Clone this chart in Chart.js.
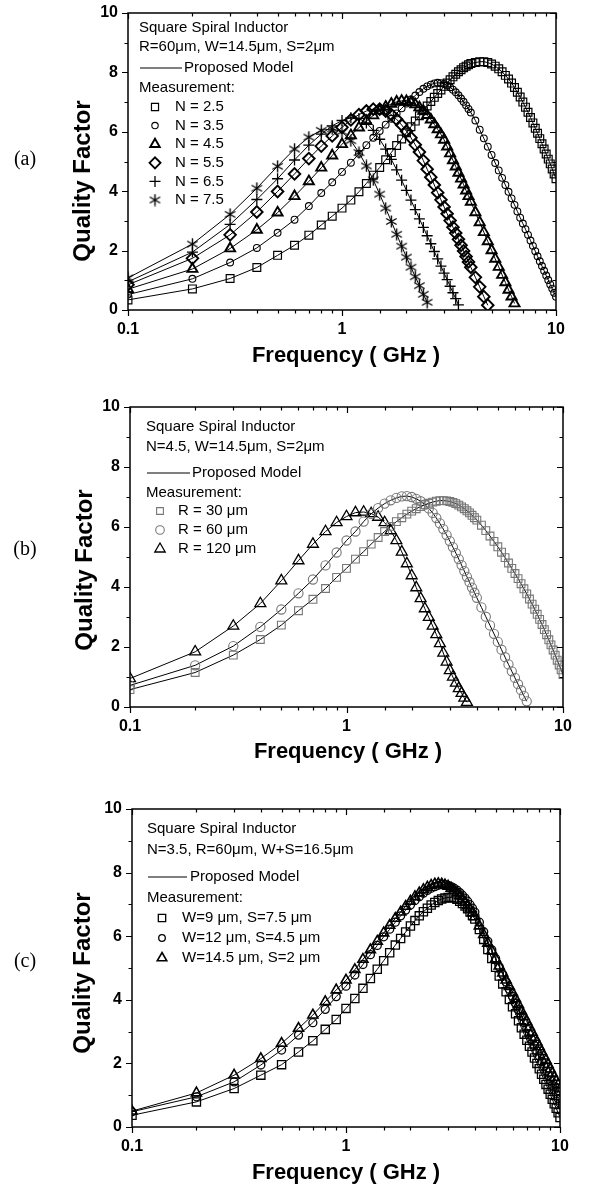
<!DOCTYPE html>
<html>
<head>
<meta charset="utf-8">
<script src="https://cdn.jsdelivr.net/npm/chart.js@4.4.1/dist/chart.umd.min.js"></script>
<style>
  html, body { margin: 0; padding: 0; background: #fff; }
  #wrap { position: relative; width: 609px; height: 1189px; }
  .panel { position: absolute; left: 0; width: 609px; }
</style>
</head>
<body>
<div id="wrap">
  <div class="panel" style="top:0px;height:390px"><canvas id="chartA" width="609" height="390"></canvas></div>
  <div class="panel" style="top:390px;height:390px"><canvas id="chartB" width="609" height="390"></canvas></div>
  <div class="panel" style="top:780px;height:409px"><canvas id="chartC" width="609" height="409"></canvas></div>
</div>
<script>
// measured frequency points (GHz), shared by every series
const freqGHz = [0.1,0.2,0.3,0.4,0.5,0.6,0.7,0.8,0.9,1.0,1.1,1.2,1.3,1.4,1.5,1.6,1.7,1.8,1.9,2.0,
  2.1,2.2,2.3,2.4,2.5,2.6,2.7,2.8,2.9,3.0,3.1,3.2,3.3,3.4,3.5,3.6,3.7,3.8,3.9,4.0,
  4.2,4.4,4.6,4.8,5.0,5.2,5.4,5.6,5.8,6.0,6.2,6.4,6.6,6.8,7.0,7.2,7.4,7.6,7.8,8.0,
  8.2,8.4,8.6,8.8,9.0,9.2,9.4,9.6,9.8,10.0];

// (a) R=60um, W=14.5um, S=2um, number of turns N
const qN25 = [0.34,0.71,1.06,1.43,1.84,2.18,2.52,2.86,3.16,3.43, 3.70,3.98,4.26,4.54,4.80,5.06,5.30,5.54,5.76,5.97,
  6.17,6.36,6.54,6.71,6.87,7.02,7.16,7.29,7.41,7.53, 7.64,7.75,7.85,7.94,8.02,8.09,8.16,8.21,8.26,8.30,
  8.33,8.36,8.36,8.33,8.28,8.21,8.12,8.02,7.90,7.78, 7.64,7.49,7.33,7.17,7.00,6.83,6.66,6.48,6.30,6.12,
  5.95,5.77,5.60,5.42,5.25,5.08,4.92,4.75,4.58,4.42];
const qN35 = [0.52,1.05,1.60,2.09,2.60,3.04,3.50,3.94,4.30,4.65, 4.96,5.26,5.55,5.80,6.03,6.24,6.44,6.62,6.79,6.95,
  7.09,7.22,7.34,7.45,7.53,7.59,7.63,7.65,7.64,7.61, 7.56,7.50,7.42,7.33,7.23,7.12,7.01,6.89,6.77,6.65,
  6.38,6.07,5.78,5.50,5.22,4.95,4.70,4.45,4.21,3.98, 3.76,3.54,3.32,3.11,2.91,2.72,2.53,2.34,2.16,1.98,
  1.81,1.64,1.48,1.32,1.16,1.01,0.86,0.72,0.58,0.45];
const qN45 = [0.70,1.38,2.07,2.70,3.28,3.83,4.33,4.79,5.20,5.58, 5.88,6.14,6.36,6.55,6.71,6.84,6.94,7.01,7.04,7.03,
  6.99,6.92,6.82,6.70,6.56,6.41,6.25,6.08,5.91,5.73, 5.50,5.27,5.04,4.83,4.62,4.42,4.22,4.02,3.83,3.64,
  3.29,2.95,2.62,2.31,2.01,1.72,1.45,1.18,0.93,0.68, 0.45,0.22];
const qN55 = [0.85,1.74,2.53,3.30,3.99,4.58,5.10,5.52,5.86,6.15, 6.40,6.58,6.70,6.76,6.76,6.70,6.58,6.42,6.23,6.02,
  5.80,5.56,5.32,5.03,4.74,4.47,4.21,3.95,3.71,3.47, 3.24,3.01,2.79,2.59,2.38,2.18,1.99,1.80,1.62,1.44,
  1.10,0.78,0.45,0.16];
const qN65 = [0.95,1.95,2.88,3.72,4.42,5.05,5.55,5.92,6.20,6.38, 6.47,6.45,6.30,6.05,5.75,5.42,5.07,4.72,4.37,4.03,
  3.70,3.38,3.07,2.78,2.50,2.23,1.97,1.72,1.48,1.24, 1.02,0.80,0.58,0.38,0.17];
const qN75 = [1.08,2.22,3.22,4.10,4.84,5.42,5.82,6.05,6.10,6.00, 5.70,5.30,4.85,4.38,3.90,3.43,2.98,2.55,2.15,1.78,
  1.44,1.12,0.82,0.53,0.26];

// (b) N=4.5, W=14.5um, S=2um, outer radius R
const qR30 = [0.58,1.15,1.73,2.25,2.73,3.21,3.59,3.95,4.32,4.62, 4.93,5.18,5.43,5.65,5.85,6.02,6.18,6.31,6.43,6.53,
  6.61,6.68,6.74,6.79,6.83,6.86,6.88,6.88,6.87,6.85, 6.82,6.78,6.73,6.67,6.61,6.54,6.47,6.39,6.31,6.23,
  6.06,5.88,5.70,5.52,5.34,5.16,4.98,4.80,4.62,4.45, 4.28,4.11,3.94,3.77,3.60,3.43,3.26,3.09,2.92,2.75,
  2.58,2.41,2.24,2.07,1.90,1.73,1.56,1.40,1.24,1.08];
const qR60 = [0.72,1.39,2.03,2.67,3.25,3.79,4.25,4.72,5.15,5.55, 5.85,6.18,6.44,6.63,6.78,6.89,6.97,7.02,7.03,7.00,
  6.94,6.86,6.75,6.62,6.47,6.30,6.12,5.93,5.73,5.53, 5.33,5.13,4.93,4.73,4.53,4.34,4.16,3.98,3.81,3.64,
  3.32,3.01,2.72,2.44,2.17,1.91,1.66,1.42,1.19,0.97, 0.76,0.56,0.37,0.19];
const qR120 = [0.95,1.84,2.70,3.45,4.21,4.88,5.43,5.85,6.15,6.35, 6.48,6.50,6.45,6.33,6.15,5.88,5.55,5.17,4.78,4.38,
  3.98,3.62,3.28,2.99,2.70,2.42,2.12,1.80,1.50,1.22, 1.00,0.80,0.62,0.46,0.30,0.16];

// (c) N=3.5, R=60um, W+S=16.5um
const qW9 = [0.37,0.79,1.21,1.63,1.96,2.36,2.71,3.07,3.38,3.73, 4.04,4.36,4.67,4.96,5.23,5.48,5.72,5.93,6.13,6.32,
  6.49,6.64,6.77,6.88,6.98,7.06,7.12,7.17,7.20,7.22, 7.22,7.20,7.16,7.10,7.03,6.95,6.86,6.76,6.65,6.54,
  6.21,5.90,5.58,5.30,5.02,4.75,4.50,4.25,4.01,3.78, 3.56,3.34,3.12,2.92,2.73,2.54,2.36,2.17,2.00,1.83,
  1.66,1.50,1.34,1.19,1.03,0.87,0.73,0.59,0.45,0.30];
const qW12 = [0.48,0.95,1.42,1.95,2.42,2.89,3.28,3.70,4.10,4.43, 4.78,5.11,5.42,5.71,5.98,6.22,6.44,6.64,6.82,6.98,
  7.12,7.24,7.35,7.44,7.51,7.56,7.60,7.62,7.62,7.60, 7.56,7.51,7.45,7.37,7.29,7.20,7.10,6.99,6.88,6.76,
  6.44,6.14,5.84,5.57,5.30,5.04,4.80,4.56,4.33,4.11, 3.90,3.69,3.48,3.28,3.10,2.92,2.74,2.56,2.39,2.23,
  2.06,1.91,1.76,1.61,1.46,1.31,1.17,1.04,0.90,0.75];
const qW145 = [0.50,1.07,1.63,2.15,2.63,3.10,3.52,3.94,4.31,4.62, 4.95,5.27,5.57,5.84,6.10,6.34,6.56,6.76,6.94,7.10,
  7.24,7.36,7.46,7.54,7.60,7.64,7.65,7.64,7.61,7.57, 7.51,7.44,7.36,7.27,7.17,7.07,6.96,6.85,6.73,6.61,
  6.32,6.05,5.78,5.54,5.29,5.06,4.84,4.62,4.42,4.22, 4.03,3.84,3.65,3.47,3.31,3.14,2.98,2.82,2.67,2.52,
  2.37,2.23,2.10,1.96,1.82,1.69,1.56,1.44,1.32,1.20];

const FONT = "'Liberation Sans', Arial, sans-serif";

// six-armed asterisk used for N = 7.5
function asterisk(size, lw) {
  const c = document.createElement('canvas');
  c.width = size; c.height = size;
  const g = c.getContext('2d');
  const m = size / 2, r = size / 2 - 0.5;
  g.strokeStyle = '#000';
  g.lineWidth = lw;
  [90, 30, 150].forEach(a => {
    const dx = r * Math.cos(a * Math.PI / 180), dy = r * Math.sin(a * Math.PI / 180);
    g.beginPath(); g.moveTo(m - dx, m - dy); g.lineTo(m + dx, m + dy); g.stroke();
  });
  return c;
}
const starBig = asterisk(13, 1.4);

function toPoints(q) {
  return q.map((v, i) => ({x: freqGHz[i], y: v}));
}

function isDecade(v) {
  const l = Math.log10(v);
  return Math.abs(l - Math.round(l)) < 1e-6;
}

// frame, mirrored ticks, titles and the in-plot notes
const panelDeco = {
  id: 'panelDeco',
  afterDraw(chart, args, o) {
    const ctx = chart.ctx, a = chart.chartArea;
    const xs = chart.scales.x, ys = chart.scales.y;
    ctx.save();
    ctx.strokeStyle = '#000';
    ctx.lineWidth = 1.5;
    ctx.strokeRect(a.left, a.top, a.right - a.left, a.bottom - a.top);
    ctx.lineWidth = 1.2;
    ys.ticks.forEach(t => {
      const y = Math.round(ys.getPixelForValue(t.value)) + 0.5;
      const len = t.value % 2 === 0 ? 6 : 3.5;
      ctx.beginPath();
      ctx.moveTo(a.left - len, y); ctx.lineTo(a.left, y);
      ctx.moveTo(a.right, y); ctx.lineTo(a.right - len, y);
      ctx.stroke();
    });
    xs.ticks.forEach(t => {
      const x = Math.round(xs.getPixelForValue(t.value)) + 0.5;
      const len = isDecade(t.value) ? 6 : 3.5;
      ctx.beginPath();
      ctx.moveTo(x, a.bottom); ctx.lineTo(x, a.bottom + len);
      ctx.moveTo(x, a.top); ctx.lineTo(x, a.top + len);
      ctx.stroke();
    });

    ctx.fillStyle = '#000';
    ctx.textBaseline = 'middle';
    // axis titles
    ctx.font = 'bold 22px ' + FONT;
    ctx.textAlign = 'center';
    ctx.fillText('Frequency ( GHz )', o.xTitle[0], o.xTitle[1]);
    ctx.save();
    ctx.translate(o.yTitle[0], o.yTitle[1]);
    ctx.rotate(-Math.PI / 2);
    ctx.font = 'bold 24px ' + FONT;
    ctx.fillText('Quality Factor', 0, 0);
    ctx.restore();
    // panel tag
    ctx.font = "20px 'Liberation Serif', 'Times New Roman', serif";
    ctx.fillText(o.tag, o.tagPos[0], o.tagPos[1]);

    // notes
    ctx.textAlign = 'left';
    ctx.font = '15px ' + FONT;
    o.notes.forEach(n => ctx.fillText(n[0], n[1], n[2]));
    ctx.lineWidth = 1;
    ctx.beginPath();
    ctx.moveTo(o.model[0], o.model[2]); ctx.lineTo(o.model[1], o.model[2]);
    ctx.stroke();
    ctx.fillText('Proposed Model', o.model[3], o.model[2]);

    chart.data.datasets.forEach((ds, i) => {
      const y = o.items[0] + i * o.items[1];
      ctx.save();
      ctx.strokeStyle = ds.pointBorderColor;
      ctx.fillStyle = 'rgba(0,0,0,0)';
      ctx.lineWidth = ds.pointBorderWidth;
      Chart.helpers.drawPoint(ctx, {pointStyle: ds.pointStyle, radius: ds.legendRadius, borderWidth: ds.pointBorderWidth, rotation: 0}, o.markX, y);
      ctx.restore();
      ctx.fillText(ds.label, o.textX, y);
    });
    ctx.restore();
  }
};

function makePanel(id, height, area, series, deco) {
  const yw = 40, xh = 30;
  const datasets = series.map(s => ({
    label: s.label,
    data: toPoints(s.q),
    showLine: true,
    borderColor: '#000',
    borderWidth: 1,
    tension: 0,
    pointStyle: s.style,
    pointRadius: s.r,
    legendRadius: s.lr,
    pointBorderWidth: s.bw,
    pointBorderColor: s.color || '#000',
    pointBackgroundColor: 'rgba(0,0,0,0)'
  }));
  return new Chart(document.getElementById(id), {
    type: 'scatter',
    data: {datasets},
    options: {
      responsive: false,
      animation: false,
      events: [],
      layout: {padding: {left: area.left - yw, top: area.top, right: 609 - area.right, bottom: height - area.bottom - xh}},
      plugins: {legend: {display: false}, tooltip: {enabled: false}, panelDeco: deco},
      scales: {
        x: {
          type: 'logarithmic', min: 0.1, max: 10,
          border: {display: false},
          grid: {display: false, drawTicks: false},
          ticks: {
            autoSkip: false, maxRotation: 0, padding: 10, color: '#000',
            font: {family: FONT, size: 16, weight: 'bold'},
            callback: v => isDecade(v) ? String(v) : ''
          },
          afterFit: s => { s.height = xh; s.paddingLeft = 0; s.paddingRight = 0; }
        },
        y: {
          min: 0, max: 10,
          border: {display: false},
          grid: {display: false, drawTicks: false},
          ticks: {
            stepSize: 1, padding: 10, color: '#000',
            font: {family: FONT, size: 16, weight: 'bold'},
            callback: v => v % 2 === 0 ? String(v) : ''
          },
          afterFit: s => { s.width = yw; s.paddingTop = 0; s.paddingBottom = 0; }
        }
      }
    },
    plugins: [panelDeco]
  });
}

makePanel('chartA', 390, {left: 128, top: 13, right: 556, bottom: 310}, [
  {label: 'N = 2.5', q: qN25, style: 'rect', r: 5.5, lr: 5, bw: 1.2},
  {label: 'N = 3.5', q: qN35, style: 'circle', r: 3.4, lr: 3.2, bw: 1.1},
  {label: 'N = 4.5', q: qN45, style: 'triangle', r: 5.8, lr: 5.5, bw: 1.9},
  {label: 'N = 5.5', q: qN55, style: 'rectRot', r: 5.8, lr: 5.5, bw: 1.9},
  {label: 'N = 6.5', q: qN65, style: 'cross', r: 5.5, lr: 5.5, bw: 1.3},
  {label: 'N = 7.5', q: qN75, style: starBig, r: 6.5, lr: 6.5, bw: 1.3}
], {
  tag: '(a)', tagPos: [25, 160], xTitle: [346, 356], yTitle: [83, 181],
  notes: [['Square Spiral Inductor', 139, 28], ['R=60\u03bcm, W=14.5\u03bcm, S=2\u03bcm', 139, 47], ['Measurement:', 139, 88]],
  model: [140, 182, 68, 184], items: [107, 18.6], markX: 155, textX: 175
});

makePanel('chartB', 390, {left: 130, top: 17, right: 563, bottom: 317}, [
  {label: 'R = 30 \u03bcm', q: qR30, style: 'rect', r: 5.5, lr: 4.8, bw: 1.1, color: '#777'},
  {label: 'R = 60 \u03bcm', q: qR60, style: 'circle', r: 4.6, lr: 4.3, bw: 1.1, color: '#777'},
  {label: 'R = 120 \u03bcm', q: qR120, style: 'triangle', r: 6.3, lr: 6, bw: 1.3}
], {
  tag: '(b)', tagPos: [25, 160], xTitle: [348, 362], yTitle: [85, 180],
  notes: [['Square Spiral Inductor', 146, 37], ['N=4.5, W=14.5\u03bcm, S=2\u03bcm', 146, 57], ['Measurement:', 146, 103]],
  model: [147, 190, 83, 192], items: [121, 19], markX: 160, textX: 178
});

makePanel('chartC', 409, {left: 132, top: 29, right: 560, bottom: 347}, [
  {label: 'W=9 \u03bcm, S=7.5 \u03bcm', q: qW9, style: 'rect', r: 5.8, lr: 5.2, bw: 1.3},
  {label: 'W=12 \u03bcm, S=4.5 \u03bcm', q: qW12, style: 'circle', r: 4, lr: 3.3, bw: 1.3},
  {label: 'W=14.5 \u03bcm, S=2 \u03bcm', q: qW145, style: 'triangle', r: 5.8, lr: 5.5, bw: 1.6}
], {
  tag: '(c)', tagPos: [25, 182], xTitle: [346, 393], yTitle: [83, 193],
  notes: [['Square Spiral Inductor', 147, 49], ['N=3.5, R=60\u03bcm, W+S=16.5\u03bcm', 147, 70], ['Measurement:', 147, 118]],
  model: [148, 187, 97, 190], items: [138, 20], markX: 162, textX: 182
});
</script>
</body>
</html>
